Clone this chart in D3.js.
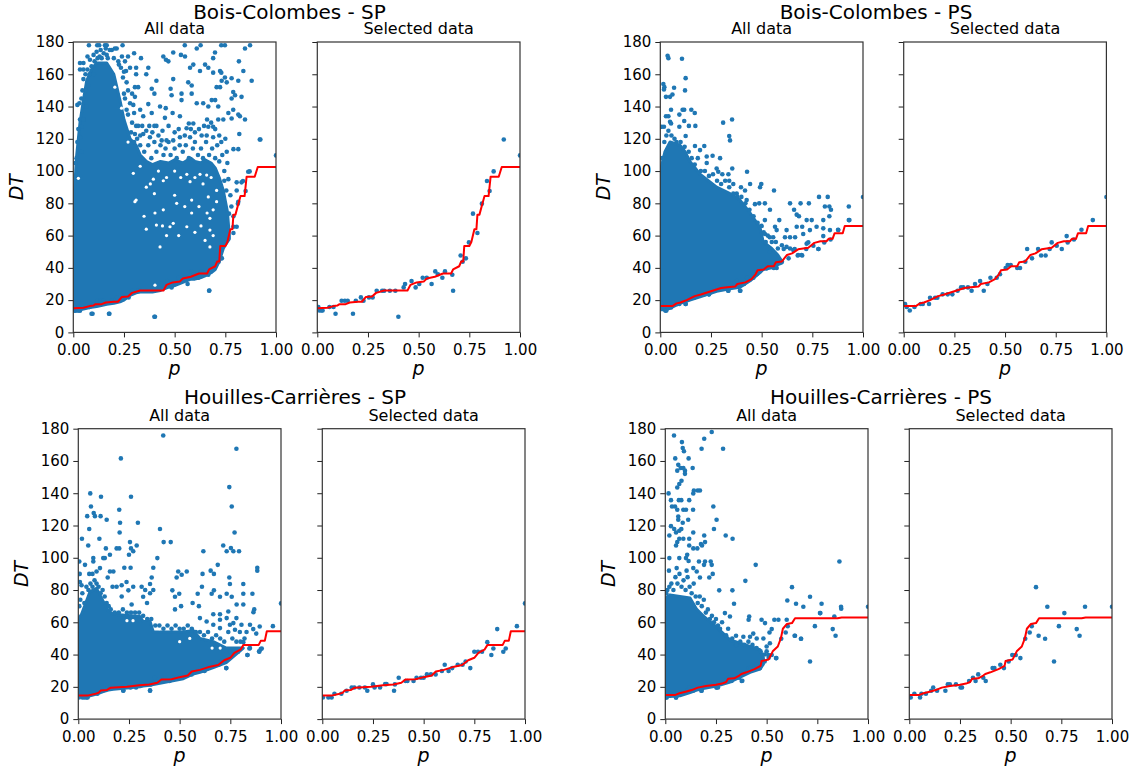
<!DOCTYPE html>
<html>
<head>
<meta charset="utf-8">
<script src="https://cdnjs.cloudflare.com/ajax/libs/d3/7.8.5/d3.min.js"></script>
<style>
  html, body { margin: 0; padding: 0; background: #fff; }
  svg { display: block; }
  text { font-family: "DejaVu Sans", sans-serif; fill: #000; }
</style>
</head>
<body>
<div id="chart"></div>
<script>
const pTicks = [0, 0.25, 0.5, 0.75, 1];
const dtTicks = [0, 20, 40, 60, 80, 100, 120, 140, 160, 180];

// ---- Bois-Colombes - SP ----
const bcSpSelected = [[.005,15.7],[.01,13.6],[.02,13.6],[.026,13.6],[.06,15.7],[.08,15.7],[.09,11.6],[.12,19.6],[.136,19.6],[.15,19.6],[.176,11.6],[.19,19.6],[.215,21.7],[.228,19.6],[.255,21.7],[.273,21.7],[.293,25.8],[.32,25.8],[.33,25.8],[.358,25.8],[.385,25.8],[.4,9.7],[.426,27.9],[.433,30],[.465,31.8],[.485,27.9],[.503,30],[.52,33.9],[.54,33.9],[.564,30],[.582,37.8],[.595,36],[.617,33.9],[.63,37.8],[.666,35.7],[.67,25.8],[.707,47.7],[.717,43.8],[.733,45.9],[.748,55.8],[.768,73.6],[.79,61.6],[.812,79.8],[.837,93.8],[.85,87.6],[.87,99.8],[.92,119.6],[1,109.7]];
const bcSpLine = [[0,15],[.05,15.3],[.08,16.3],[.1,16.7],[.11,17.5],[.14,17.5],[.16,18.5],[.2,19],[.22,19],[.24,22],[.27,22.3],[.29,24.5],[.33,26],[.445,26],[.46,29.5],[.49,31],[.525,31.5],[.54,33.4],[.58,34.5],[.62,36.5],[.66,36.5],[.67,39],[.7,41],[.71,44],[.72,44],[.725,53.5],[.75,53.5],[.76,56],[.775,64],[.785,64],[.79,73],[.8,73],[.815,80],[.825,84.5],[.845,84.5],[.855,96.5],[.895,96.5],[.91,102.5],[1,102.5]];
const bcSpCloudP = [0,.016,.033,.05,.066,.09,.115,.165,.2,.23,.25,.28,.31,.33,.36,.39,.43,.47,.5,.54,.58,.6,.63,.65,.68,.7,.72,.74,.76,.77];
const bcSpCloudHi = [75,109,130,144,156,163,167,167,160,144,132,120,116,110,106,104,106,105,107,105,108,106,105,107,105,102,96,88,75,60];
const bcSpCloudLo = [14,14,14,14.5,15,15.5,16,17.5,18,19,20,23,24.5,25,25,25,26,28,29,31,33,33,34,35,37,39,44,52,56,58];
const bcSpGaps = [[.205,152],[.238,139],[.27,138],[.27,118],[.304,81],[.31,82],[.349,72],[.403,74],[.41,66.5],[.477,65.5],[.493,67.6],[.444,76],[.576,93.4],[.584,74],[.584,82],[.51,80],[.658,97.5],[.625,98],[.395,95],[.674,70.7],[.674,63.4],[.674,53],[.65,57],[.444,94],[.33,103],[.296,98.6],[.56,65.5],[.707,81],[.666,84],[.707,88],[.428,53],[.403,29.3],[.025,95.5],[.36,90],[.38,92],[.42,100],[.46,96],[.5,100],[.53,96],[.56,98],[.6,96],[.64,92],[.68,96],[.62,78],[.66,74],[.55,78],[.52,60],[.46,60],[.44,66],[.6,62],[.63,66],[.69,76],[.4,86],[.36,64],[.5,85],[.69,60]];
const bcSpFringe = [[.1,172],[.105,168],[.12,170],[.135,175],[.14,170],[.15,173],[.16,176],[.17,170],[.18,175],[.2,170],[.205,176],[.225,166],[.235,164],[.245,158],[.26,162],[.27,150],[.255,145],[.28,142],[.29,148],[.27,135],[.29,130],[.3,136],[.31,128],[.32,128],[.33,122],[.34,128],[.36,125],[.375,128],[.39,124],[.4,128],[.42,122],[.44,125],[.47,128],[.5,124],[.52,126],[.55,122],[.58,126],[.6,124],[.62,126],[.645,128],[.66,132],[.68,130],[.7,126],[.72,122],[.73,118],[.75,120],[.76,105],[.745,100],[.765,95],[.755,88],[.775,85],[.02,118],[.025,126],[.04,145],[.045,150],[.06,160],[.07,163],[.08,160],[.09,165],[.065,140],[.1,160]];
const bcSpFringeMid = [[.35,112],[.37,116],[.385,108],[.4,118],[.41,112],[.43,116],[.445,110],[.455,114],[.47,118],[.48,110],[.5,114],[.51,108],[.525,116],[.54,112],[.555,116],[.57,108],[.59,114],[.6,118],[.615,110],[.63,114],[.64,108],[.655,118],[.67,110],[.685,114],[.7,108],[.71,116],[.72,106],[.735,110],[.745,94],[.315,120],[.33,116],[.3,118],[.285,124]];
const bcSpPoints = [[.077,178],[.118,178],[.128,178],[.156,178],[.165,178],[.243,178],[.55,178],[.628,178],[.73,178],[.748,178],[.872,178],[.016,108],[.01,105],[.04,112],[.02,141],[.03,142],[.033,167],[.05,167],[.033,163],[.05,163],[.05,157],[.07,171],[.082,169],[.074,153],[.062,150],[.033,132],[.05,132],[.04,127.5],[.033,121],[.115,174],[.13,171],[.165,172],[.19,175],[.214,176],[.24,171],[.255,168],[.27,171],[.222,168],[.25,161.6],[.28,164],[.31,164],[.31,160],[.3,173],[.334,170],[.444,171],[.457,169],[.469,168],[.493,173.5],[.531,172],[.551,171],[.609,176],[.699,173.5],[.69,170],[.65,166],[.592,166],[.576,164],[.625,162],[.666,164],[.724,162],[.69,161],[.73,161],[.748,158],[.781,157.5],[.817,168],[.839,162],[.814,156],[.88,156],[.847,176],[.263,155],[.304,152],[.32,152],[.25,148],[.304,146],[.37,164],[.36,160],[.41,156],[.387,151],[.4,148],[.263,138],[.33,138],[.296,141],[.37,141.5],[.345,134],[.387,136],[.428,140],[.456,139],[.48,151],[.485,147],[.493,157],[.534,148],[.534,144],[.49,136],[.526,134],[.452,133],[.41,128],[.567,155],[.584,153],[.584,148],[.609,142],[.641,142],[.666,140],[.683,144],[.7,144],[.707,152],[.724,152],[.732,156],[.757,155],[.789,149],[.798,147],[.781,145],[.83,146],[.715,140],[.765,136],[.789,138],[.814,135],[.847,132],[.822,134],[.715,132],[.74,132],[.69,127.5],[.666,127.5],[.57,129.5],[.592,129.5],[.559,126.5],[.819,123],[.781,132.6],[.79,113.6],[.814,113.6],[.757,112],[.923,119.6],[.863,99.6],[.304,123],[.345,123],[.378,121],[.436,119],[.46,119],[.493,119],[.526,121],[.576,121],[.633,122],[.658,122],[.69,121],[.806,93],[.83,93],[.806,88],[.814,81],[.78,78],[.79,65.5],[.806,65.5],[.79,72],[.74,58],[.73,46],[.671,26],[.403,9.7],[.095,11.6],[.178,11.6],[.008,13.4],[.033,13.4]];

// ---- Bois-Colombes - PS ----
const bcPsSelected = [[.007,17.6],[.015,15.7],[.03,13.6],[.053,15.7],[.084,17.6],[.094,17.6],[.125,17.6],[.13,21.5],[.155,21.5],[.166,21.5],[.192,23.6],[.217,23.6],[.24,23.6],[.266,25.8],[.283,27.9],[.294,27.9],[.317,27.9],[.335,25.8],[.352,30],[.377,31.8],[.395,25.8],[.413,30],[.428,33.9],[.459,33.9],[.475,36],[.503,39.9],[.513,41.7],[.528,41.7],[.56,39.9],[.574,39.9],[.6,43.8],[.609,51.7],[.633,45.9],[.663,51.7],[.678,47.7],[.7,47.7],[.72,51.7],[.73,55.8],[.755,53.7],[.78,51.7],[.804,59.7],[.809,55.8],[.84,57.6],[.877,63.6],[.933,69.6],[1,83.9]];
const bcPsLine = [[0,16.3],[.06,16.3],[.08,18],[.1,18.5],[.13,20],[.17,22.5],[.2,23.5],[.25,25.5],[.3,27.5],[.33,28],[.37,28.5],[.38,30],[.42,31],[.45,33],[.47,36],[.48,38.5],[.51,39],[.53,41],[.56,41],[.57,43.5],[.6,44],[.625,48],[.65,49],[.68,51.5],[.73,52.5],[.76,55.5],[.79,56.5],[.82,56.5],[.83,58],[.85,58],[.86,61.5],[.9,61.5],[.91,66],[1,66]];
const bcPsCloudP = [0,.023,.048,.097,.122,.146,.196,.278,.344,.393,.443,.492,.508,.55,.58,.6];
const bcPsCloudHi = [100,112,118,116,112,106,98,90,86,82,74,65,56,52,48,44];
const bcPsCloudLo = [14,14,15,18,19,20,22,25.5,27,28,32,37,39,40,42,43];
const bcPsFringe = [[.01,108],[.02,118],[.03,122],[.04,125],[.055,122],[.07,120],[.08,118],[.1,118],[.12,115],[.14,112],[.155,108],[.17,104],[.185,108],[.2,100],[.22,100],[.24,97],[.26,98],[.28,94],[.3,92],[.32,94],[.34,90],[.36,86],[.38,84],[.4,84],[.42,80],[.44,76],[.46,72],[.48,68],[.5,66],[.51,62],[.53,60],[.55,56],[.57,56],[.6,54],[.58,52],[.52,56],[.54,50]];
const bcPsPoints = [[.036,171.5],[.04,170],[.107,169.6],[.125,157.6],[.122,150],[.015,154],[.02,152],[.018,150.6],[.068,151.6],[.028,146],[.048,146],[.06,147.5],[.053,138],[.094,135],[.11,138],[.118,138],[.153,138],[.17,136],[.028,134],[.04,134],[.048,130.6],[.018,127.5],[.007,127.5],[.053,129.5],[.094,127.5],[.118,131],[.141,128],[.173,128],[.31,130],[.354,132],[.34,121.7],[.344,119],[.125,121.7],[.171,115.5],[.217,115.5],[.196,113],[.229,109],[.258,109.5],[.295,108],[.229,105],[.278,101.6],[.286,99.6],[.306,98],[.336,98],[.355,101.6],[.428,99.6],[.34,94],[.36,92],[.443,92],[.498,92],[.492,90],[.398,90],[.418,88],[.561,88],[.377,86],[.426,82],[.467,79.5],[.488,80],[.516,80],[.541,76],[.516,69.6],[.587,69.6],[.566,65.5],[.64,80],[.692,80],[.733,80],[.783,84],[.826,84],[.812,78],[.834,78],[.842,76],[.93,78],[.93,69.6],[.66,76],[.673,73],[.684,72],[.747,69.6],[.722,69.6],[.7,65.5],[.673,65.5],[.771,65.5],[.804,69.6],[.834,72],[.804,64.5],[.837,63.4],[.878,63.4],[.738,63.4],[.623,63.4],[.615,59],[.64,59],[.665,59],[.705,61],[.722,55],[.78,51.7],[.68,48],[.697,48],[.574,63.4],[.54,59],[.557,59],[.623,53],[.64,52],[.656,51],[.516,61],[.023,14],[.026,13.4],[.053,15.5],[.393,25.8],[.336,25.8],[.24,23.6],[.125,17.6],[.525,39.7]];

// ---- Houilles-Carrieres - SP ----
const hcSpSelected = [[.003,13.4],[.03,13.4],[.046,13.4],[.06,15.7],[.094,15.7],[.12,17.6],[.145,19.6],[.158,19.6],[.183,19.6],[.21,19.6],[.222,17.6],[.25,21.5],[.258,19.6],[.285,19.6],[.31,21.7],[.317,21.7],[.354,17.6],[.358,21.5],[.377,25.6],[.411,23.6],[.42,23.6],[.45,23.6],[.465,25.6],[.487,25.6],[.5,25.6],[.516,27.7],[.536,27.7],[.559,27.7],[.59,29.8],[.604,33.7],[.623,29.8],[.641,31.6],[.668,33.7],[.692,33.7],[.707,35.7],[.73,31.6],[.75,41.7],[.768,41.7],[.788,41.7],[.814,47.7],[.834,39.7],[.844,43.8],[.863,55.8],[.893,41.7],[.905,43.8],[.96,57.6],[1,71.7]];
const hcSpLine = [[0,14.7],[.05,14.7],[.08,15.5],[.1,16.3],[.11,17.7],[.14,18],[.16,19.5],[.24,20],[.27,20.5],[.3,21],[.35,21.5],[.39,22.5],[.41,24.5],[.46,24.7],[.5,26],[.54,27],[.56,29.5],[.6,30.5],[.65,32.5],[.69,33.5],[.72,36.5],[.75,38],[.77,41],[.8,43],[.815,46],[.89,46],[.9,48.5],[.92,48.5],[.93,54.5],[1,54.5]];
const hcSpCloudP = [0,.016,.04,.058,.09,.123,.148,.173,.304,.32,.354,.37,.518,.567,.6,.666,.73,.814];
const hcSpCloudHi = [62,65,73,79,81,73,67,65,63.6,60.5,60.5,54,54,55,50,48,44,44];
const hcSpCloudLo = [14,14,14,14.5,15.5,17,18,18.5,20,20.5,21,21.5,25,28,29,32,35,44];
const hcSpGaps = [[.24,61],[.27,61],[.4,56],[.66,44],[.7,44],[.5,48],[.55,50]];
const hcSpFringe = [[.005,70],[.01,74],[.02,78],[.03,72],[.04,82],[.05,80],[.06,84],[.07,82],[.08,86],[.09,84],[.1,82],[.11,78],[.12,80],[.13,76],[.14,72],[.15,70],[.16,68],[.18,66],[.2,66],[.22,68],[.24,66],[.26,66],[.28,66],[.3,66],[.32,64],[.34,62],[.36,62],[.38,58],[.4,58],[.42,56],[.44,58],[.46,56],[.48,58],[.5,56],[.52,56],[.54,58],[.56,56],[.58,54],[.6,54],[.62,52],[.64,54],[.66,50],[.68,52],[.7,50],[.72,48],[.74,54],[.76,50],[.78,48],[.8,48],[.82,50]];
const hcSpPoints = [[.419,175.8],[.78,167.6],[.21,161.6],[.059,139.9],[.112,137.8],[.26,137.8],[.0625,131.8],[.044,125.8],[.076,127.7],[.082,125.8],[.11,125.8],[.14,123.6],[.054,117.8],[.018,111.8],[.104,111.8],[.202,129.8],[.206,121.7],[.204,115.7],[.294,121.7],[.403,117.8],[.421,109.7],[.456,109.7],[.288,107.6],[.255,109.7],[.26,105.8],[.271,104],[.25,101.9],[.049,107.6],[.136,105.8],[.189,105.8],[.202,105.8],[.156,101.9],[.131,99.8],[.123,99.8],[.074,99.8],[.39,99.8],[.005,97.7],[.033,95.6],[.074,97.7],[.227,93.8],[.258,93.8],[.37,93.8],[.09,91.5],[.107,93.6],[.156,91.5],[.173,91.5],[.007,90],[.054,90],[.07,90],[.008,85],[.016,83],[.145,87.8],[.238,85],[.214,83],[.362,87.8],[.354,83.7],[.493,91.5],[.51,89.5],[.535,91.5],[.485,87.8],[.464,79.8],[.477,75.8],[.498,77.7],[.271,82],[.3125,82],[.33,80],[.37,80],[.354,78],[.169,82],[.189,82],[.214,76],[.247,79.8],[.263,71],[.32,75.8],[.339,72],[.617,104],[.715,107.6],[.732,104],[.753,106],[.765,104],[.793,104],[.745,143.8],[.757,131.8],[.771,115.7],[.688,95.6],[.653,92],[.669,90],[.613,90],[.883,93.8],[.883,92],[.745,87.8],[.748,83.7],[.814,83.7],[.61,82],[.669,79.8],[.658,77.7],[.699,75.8],[.732,77.7],[.757,75.8],[.814,77.7],[.859,77.7],[.589,77.7],[.595,70],[.564,72],[.507,70],[.477,68],[.666,65],[.699,65],[.74,66.7],[.781,71],[.814,71],[.868,68],[.864,66.3],[.895,57.4],[.805,58.5],[.847,58.5],[.878,53],[.9,43.4],[.892,42],[.835,39.7],[.73,31.6],[.847,44],[.6,62.6],[.633,60.5],[.699,61.6],[.732,62.6],[.765,59.5],[.78,62.6],[.666,58.5],[.699,56.4],[.748,58.5],[.797,54],[.83,54],[.773,55.4],[.354,17.8],[.222,17.8],[.04,13.4],[.02,13.4]];

// ---- Houilles-Carrieres - PS ----
const hcPsSelected = [[.007,13.4],[.025,15.7],[.053,13.4],[.06,15.7],[.082,15.7],[.108,17.6],[.118,19.6],[.137,17.6],[.178,17.6],[.19,21.5],[.2,21.5],[.23,21.5],[.253,19.6],[.26,19.6],[.295,23.6],[.314,25.6],[.327,23.6],[.34,27.7],[.365,25.6],[.377,23.6],[.411,31.6],[.42,31.6],[.449,33.7],[.467,31.6],[.49,35.7],[.508,39.7],[.525,39.7],[.548,37.8],[.572,49.8],[.594,53.7],[.604,57.6],[.625,81.8],[.638,51.7],[.67,49.8],[.681,69.6],[.714,35.7],[.738,57.6],[.765,65.7],[.826,55.8],[.84,51.7],[.867,69.6],[1,69.6]];
const hcPsLine = [[0,15],[.05,15],[.07,16],[.1,17],[.13,18],[.16,19.5],[.2,20.5],[.25,21.3],[.28,22],[.3,23],[.31,25],[.34,25.3],[.365,27],[.375,28],[.4,29],[.44,31],[.47,33],[.475,36],[.51,37],[.53,42],[.555,45],[.57,50],[.58,56],[.6,59],[.625,59.5],[.64,62.5],[.85,62.5],[.87,63],[1,63]];
const hcPsCloudP = [0,.023,.072,.122,.155,.187,.253,.32,.418,.467,.484];
const hcPsCloudHi = [75,77,76,75,68,64,57,49,45,43,38];
const hcPsCloudLo = [14,14,14.5,16.5,18,19,20.5,23,29,31,34];
const hcPsFringe = [[.005,78],[.01,80],[.02,82],[.03,84],[.04,80],[.05,88],[.06,84],[.07,90],[.08,82],[.09,86],[.1,80],[.11,88],[.12,82],[.13,78],[.14,84],[.15,76],[.16,72],[.17,76],[.18,70],[.19,74],[.2,66],[.21,68],[.22,62],[.23,64],[.24,60],[.25,62],[.26,58],[.27,56],[.28,60],[.3,52],[.31,56],[.33,50],[.35,46],[.37,48],[.39,46],[.41,48],[.43,46],[.45,44],[.47,42],[.49,40],[.51,38],[.5,42]];
const hcPsPoints = [[.043,175.8],[.229,178],[.192,173.8],[.082,171.7],[.086,168],[.092,166],[.179,167.6],[.285,167.6],[.049,161.6],[.115,161.6],[.135,155.6],[.064,157.6],[.059,154],[.076,155.6],[.089,155.6],[.097,154],[.097,152],[.08,147.7],[.069,145.7],[.059,143.6],[.141,141.7],[.138,139.9],[.16,141.7],[.171,141.7],[.016,139.9],[.028,135.7],[.067,135.7],[.079,135.7],[.118,135.7],[.033,131.8],[.048,131.8],[.059,129.8],[.089,129.8],[.102,129.8],[.137,129.8],[.237,131.8],[.064,125.6],[.064,123.6],[.086,121.7],[.113,123.6],[.253,123.6],[.028,119.6],[.24,117.8],[.044,117.8],[.069,116.7],[.079,117.8],[.02,113.8],[.053,115.7],[.138,115.7],[.192,113.8],[.298,113.8],[.332,111.8],[.069,111.8],[.089,111.8],[.118,111.8],[.059,109.7],[.053,107.6],[.118,107.6],[.138,105.8],[.158,105.8],[.176,108.5],[.196,109.7],[.181,107.6],[.108,101.9],[.102,99.8],[.115,98],[.02,99.8],[.069,99.8],[.166,97.7],[.196,97.7],[.224,97.7],[.229,95.6],[.446,95.6],[.191,95.6],[.018,92],[.056,93.6],[.105,92],[.138,93.6],[.155,91.5],[.234,90],[.217,87.8],[.395,85.7],[.171,87.8],[.859,97.7],[.331,79.8],[.266,79.8],[.602,73.5],[.714,75.8],[.771,71.5],[.339,71.5],[.645,71.5],[.868,68.4],[.763,65.7],[.834,63.6],[.294,65.7],[.319,63.6],[.414,63.6],[.411,61.6],[.475,61.6],[.492,59.5],[.538,61.6],[.558,61.6],[.599,61.6],[.64,51.7],[.669,49.8],[.525,55.8],[.514,53.7],[.484,50],[.434,53],[.418,51],[.349,51.7],[.385,51],[.451,50],[.516,47],[.5,45],[.38,23.8],[.253,19.6],[.053,13.4],[.003,13.4],[.179,17.6],[.459,31.6],[.546,37.8]];

// dimensions
const width = 1133;
const height = 773;
const panelW = 202.7;
const panelH = 290.4;
const blue = "#1f77b4";
const dotR = 2.3;

const figures = [
  { title: "Bois-Colombes - SP", cx: 289.5, ty: 19, top: 42, all: 73.3, sel: 317.3,
    selected: bcSpSelected, line: bcSpLine, points: bcSpPoints.concat(bcSpFringe, bcSpFringeMid), gaps: bcSpGaps,
    cloudP: bcSpCloudP, cloudHi: bcSpCloudHi, cloudLo: bcSpCloudLo },
  { title: "Bois-Colombes - PS", cx: 876, ty: 19, top: 42, all: 660.3, sel: 903.7,
    selected: bcPsSelected, line: bcPsLine, points: bcPsPoints.concat(bcPsFringe), gaps: [],
    cloudP: bcPsCloudP, cloudHi: bcPsCloudHi, cloudLo: bcPsCloudLo },
  { title: "Houilles-Carrières - SP", cx: 295, ty: 404.4, top: 428.7, all: 78.3, sel: 322.3,
    selected: hcSpSelected, line: hcSpLine, points: hcSpPoints.concat(hcSpFringe), gaps: hcSpGaps,
    cloudP: hcSpCloudP, cloudHi: hcSpCloudHi, cloudLo: hcSpCloudLo },
  { title: "Houilles-Carrières - PS", cx: 881, ty: 404.4, top: 428.7, all: 665.3, sel: 909.3,
    selected: hcPsSelected, line: hcPsLine, points: hcPsPoints.concat(hcPsFringe), gaps: [],
    cloudP: hcPsCloudP, cloudHi: hcPsCloudHi, cloudLo: hcPsCloudLo },
];

const svg = d3
  .select("#chart")
  .append("svg")
  .attr("width", width)
  .attr("height", height);

const x = d3.scaleLinear().domain([0, 1]).range([0, panelW]);
const y = d3.scaleLinear().domain([0, 180]).range([panelH, 0]);

svg
  .append("defs")
  .append("clipPath")
  .attr("id", "plot-clip")
  .append("rect")
  .attr("width", panelW)
  .attr("height", panelH);

const redLine = d3
  .line()
  .x((d) => x(d[0]))
  .y((d) => y(d[1]));

const dots = (g, data, color, r) => {
  g.append("g")
    .attr("fill", color)
    .selectAll("circle")
    .data(data)
    .join("circle")
    .attr("cx", (d) => x(d[0]))
    .attr("cy", (d) => y(d[1]))
    .attr("r", r);
};

const drawAxes = (ctr, showDt) => {
  const xAxis = d3
    .axisBottom(x)
    .tickValues(pTicks)
    .tickSize(5)
    .tickPadding(7)
    .tickFormat(d3.format(".2f"));
  const yAxis = d3.axisLeft(y).tickValues(dtTicks).tickSize(5).tickPadding(4);
  if (!showDt) yAxis.tickFormat("");

  const xg = ctr.append("g").attr("transform", `translate(0,${panelH})`).call(xAxis);
  const yg = ctr.append("g").call(yAxis);
  [xg, yg].forEach((g) => {
    g.attr("font-size", 15).attr("font-family", '"DejaVu Sans", sans-serif');
    g.select(".domain").remove();
    g.selectAll("line").attr("stroke", "#222");
  });

  ctr
    .append("rect")
    .attr("width", panelW)
    .attr("height", panelH)
    .attr("fill", "none")
    .attr("stroke", "#333")
    .attr("stroke-width", 1.2);

  ctr
    .append("text")
    .attr("x", panelW / 2)
    .attr("y", panelH + 43)
    .attr("text-anchor", "middle")
    .attr("font-size", 19)
    .attr("font-style", "italic")
    .text("p");
};

const drawPanel = (fig, left, isAll) => {
  const ctr = svg.append("g").attr("transform", `translate(${left},${fig.top})`);
  const plot = ctr.append("g").attr("clip-path", "url(#plot-clip)");

  if (isAll) {
    const cloud = d3
      .area()
      .x((d, i) => x(fig.cloudP[i]))
      .y0((d, i) => y(fig.cloudLo[i]))
      .y1((d, i) => y(fig.cloudHi[i]));
    plot
      .append("path")
      .attr("d", cloud(fig.cloudP))
      .attr("fill", blue)
      .attr("stroke", blue)
      .attr("stroke-width", 3)
      .attr("stroke-linejoin", "round");
    dots(plot, fig.gaps, "#fff", 1.6);
    dots(plot, fig.points, blue, dotR);
  }
  dots(plot, fig.selected, blue, dotR);
  plot
    .append("path")
    .attr("d", redLine(fig.line))
    .attr("fill", "none")
    .attr("stroke", "red")
    .attr("stroke-width", 2)
    .attr("stroke-linejoin", "round");

  drawAxes(ctr, isAll);

  ctr
    .append("text")
    .attr("x", panelW / 2)
    .attr("y", -8)
    .attr("text-anchor", "middle")
    .attr("font-size", 16)
    .text(isAll ? "All data" : "Selected data");

  if (isAll) {
    ctr
      .append("text")
      .attr("transform", `translate(-50,${panelH / 2}) rotate(-90)`)
      .attr("text-anchor", "middle")
      .attr("font-size", 19)
      .attr("font-style", "italic")
      .text("DT");
  }
};

figures.forEach((fig) => {
  svg
    .append("text")
    .attr("x", fig.cx)
    .attr("y", fig.ty)
    .attr("text-anchor", "middle")
    .attr("font-size", 20)
    .text(fig.title);
  drawPanel(fig, fig.all, true);
  drawPanel(fig, fig.sel, false);
});
</script>
</body>
</html>
